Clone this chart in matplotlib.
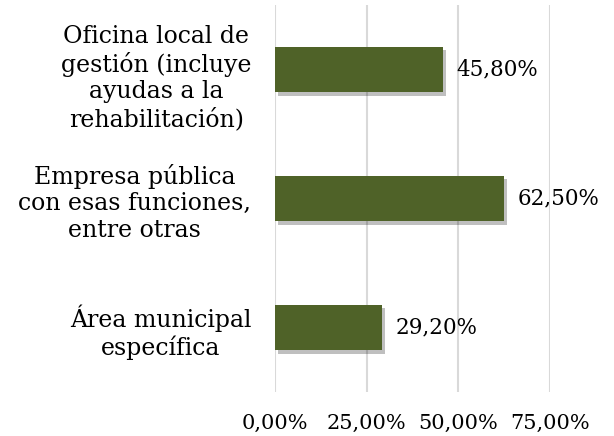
import matplotlib
matplotlib.use("Agg")
import matplotlib.pyplot as plt
import matplotlib.transforms as mtransforms
import matplotlib.patheffects as pe

categories = ["Área municipal\nespecífica",
              "Empresa pública\ncon esas funciones,\nentre otras",
              "Oficina local de\ngestión (incluye\nayudas a la\nrehabilitación)"]
values = [0.292, 0.625, 0.458]
value_labels = ["29,20%", "62,50%", "45,80%"]
xticks = [0, 0.25, 0.5, 0.75]
xtick_labels = ["0,00%", "25,00%", "50,00%", "75,00%"]

plt.rcParams['font.family'] = ['DejaVu Serif']

fig = plt.figure(figsize=(6.14, 4.36), dpi=100)
ax = fig.add_axes([275/614, 1 - 392/436, (550-275)/614, (392-5)/436])

ypos = list(range(len(categories)))
bars = ax.barh(ypos, values, height=0.355, color="#4F6228", zorder=3,
               path_effects=[pe.SimplePatchShadow(offset=(2, -2.5), shadow_rgbFace="#000000", alpha=0.25),
                             pe.Normal()])

ax.set_xlim(0, 0.75)
ax.set_ylim(-0.5, 2.5)
ax.set_xticks(xticks)
ax.set_xticklabels(xtick_labels, fontsize=15)
ax.set_yticks(ypos)
ax.set_yticklabels(categories, fontsize=17, multialignment='center', linespacing=1.2)
ax.tick_params(axis='both', length=0)
ax.tick_params(axis='x', pad=16)
ax.tick_params(axis='y', pad=17)

label_shift_px = [0, 0, 4]
for lbl, d in zip(ax.get_yticklabels(), label_shift_px):
    offset = mtransforms.ScaledTranslation(0, -d/100, fig.dpi_scale_trans)
    lbl.set_transform(lbl.get_transform() + offset)

ax.grid(axis='x', color="#D9D9D9", linewidth=1.5, zorder=0)
for s in ax.spines.values():
    s.set_visible(False)

for y, v, t in zip(ypos, values, value_labels):
    ax.annotate(t, (v, y), xytext=(10, 0), textcoords='offset points',
                va='center', ha='left', fontsize=15.5)

fig.savefig("out.png", dpi=100, facecolor='white')
